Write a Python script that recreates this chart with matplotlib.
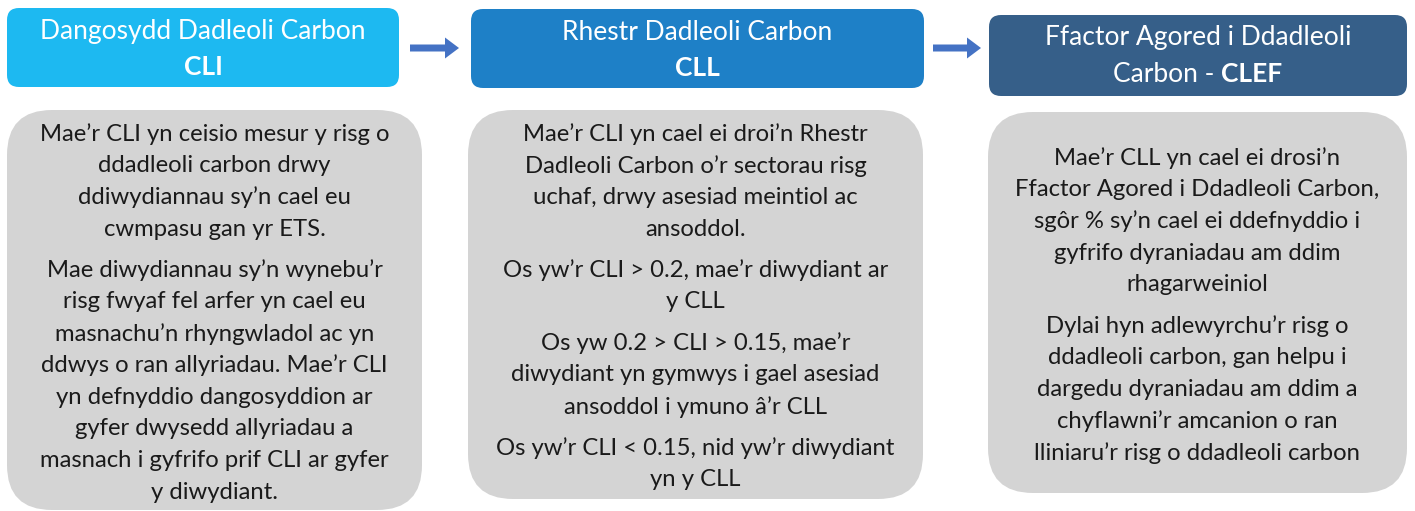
import matplotlib
matplotlib.use("Agg")
import matplotlib.pyplot as plt
from matplotlib.patches import FancyBboxPatch, FancyArrow

# ---- content ----
header_line1 = ["Dangosydd Dadleoli Carbon", "Rhestr Dadleoli Carbon", "Ffactor Agored i Ddadleoli"]
header_line2_normal = ["", "", "Carbon - "]
header_line2_bold = ["CLI", "CLL", "CLEF"]
header_colors = ["#1DB9F1", "#1E80C7", "#365F89"]

body_1 = [
    ["Mae’r CLI yn ceisio mesur y risg o", "ddadleoli carbon drwy",
     "ddiwydiannau sy’n cael eu", "cwmpasu gan yr ETS."],
    ["Mae diwydiannau sy’n wynebu’r", "risg fwyaf fel arfer yn cael eu",
     "masnachu’n rhyngwladol ac yn", "ddwys o ran allyriadau. Mae’r CLI",
     "yn defnyddio dangosyddion ar", "gyfer dwysedd allyriadau a",
     "masnach i gyfrifo prif CLI ar gyfer", "y diwydiant."],
]
body_2 = [
    ["Mae’r CLI yn cael ei droi’n Rhestr", "Dadleoli Carbon o’r sectorau risg",
     "uchaf, drwy asesiad meintiol ac", "ansoddol."],
    ["Os yw’r CLI > 0.2, mae’r diwydiant ar", "y CLL"],
    ["Os yw 0.2 > CLI > 0.15, mae’r", "diwydiant yn gymwys i gael asesiad",
     "ansoddol i ymuno â’r CLL"],
    ["Os yw’r CLI < 0.15, nid yw’r diwydiant", "yn y CLL"],
]
body_3 = [
    ["Mae’r CLL yn cael ei drosi’n", "Ffactor Agored i Ddadleoli Carbon,",
     "sgôr % sy’n cael ei ddefnyddio i", "gyfrifo dyraniadau am ddim",
     "rhagarweiniol"],
    ["Dylai hyn adlewyrchu’r risg o", "ddadleoli carbon, gan helpu i",
     "dargedu dyraniadau am ddim a", "chyflawni’r amcanion o ran",
     "lliniaru’r risg o ddadleoli carbon"],
]
bodies = [body_1, body_2, body_3]

# ---- layout (pixels) ----
W, H = 1415, 511
header_boxes = [(7, 8, 399, 87), (471, 9, 924, 88), (989, 15, 1407, 96)]
header_text_y = [(31, 67), (32, 68), (38, 74)]
body_boxes = [(7, 110, 422, 510), (468, 110, 923, 499), (988, 112, 1407, 493)]
body_start_y = [134, 134, 158]
line_step = 31.7
para_gap = 9.5
arrows = [(410, 459, 48), (933, 981, 48)]

FONT = "Lato"
BODY_SIZE = 17.2
HEAD_SIZE = 19

fig = plt.figure(figsize=(W / 100, H / 100), dpi=100)
ax = fig.add_axes([0, 0, 1, 1])
ax.set_xlim(0, W)
ax.set_ylim(H, 0)
ax.axis("off")

for (x0, y0, x1, y1), c in zip(header_boxes, header_colors):
    ax.add_patch(FancyBboxPatch((x0, y0), x1 - x0, y1 - y0,
                                boxstyle="round,pad=0,rounding_size=12",
                                fc=c, ec="none"))

for (x0, y0, x1, y1) in body_boxes:
    ax.add_patch(FancyBboxPatch((x0, y0), x1 - x0, y1 - y0,
                                boxstyle="round,pad=0,rounding_size=45",
                                fc="#D4D4D4", ec="none"))

for xs, xe, y in arrows:
    ax.add_patch(FancyArrow(xs, y, xe - xs, 0, width=7, head_width=21,
                            head_length=14, length_includes_head=True,
                            fc="#4472C4", ec="none"))

# header text
fig.canvas.draw()
renderer = fig.canvas.get_renderer()
for i, (x0, y0, x1, y1) in enumerate(header_boxes):
    cx = (x0 + x1) / 2
    ya, yb = header_text_y[i]
    ax.text(cx, ya, header_line1[i], ha="center", va="center", color="white",
            fontsize=HEAD_SIZE, family=FONT)
    if header_line2_normal[i]:
        t1 = ax.text(0, yb, header_line2_normal[i], ha="left", va="center",
                     color="white", fontsize=HEAD_SIZE, family=FONT)
        t2 = ax.text(0, yb, header_line2_bold[i], ha="left", va="center",
                     color="white", fontsize=HEAD_SIZE, family=FONT,
                     fontweight="bold")
        w1 = t1.get_window_extent(renderer).width
        w2 = t2.get_window_extent(renderer).width
        start = cx - (w1 + w2) / 2
        t1.set_x(start)
        t2.set_x(start + w1)
    else:
        ax.text(cx, yb, header_line2_bold[i], ha="center", va="center",
                color="white", fontsize=HEAD_SIZE, family=FONT,
                fontweight="bold")

# body text
for i, (x0, y0, x1, y1) in enumerate(body_boxes):
    cx = (x0 + x1) / 2
    y = body_start_y[i]
    for p, para in enumerate(bodies[i]):
        if p > 0:
            y += para_gap
        for line in para:
            ax.text(cx, y, line, ha="center", va="center", color="#1A1A1A",
                    fontsize=BODY_SIZE, family=FONT)
            y += line_step

fig.savefig("out.png", dpi=100)
